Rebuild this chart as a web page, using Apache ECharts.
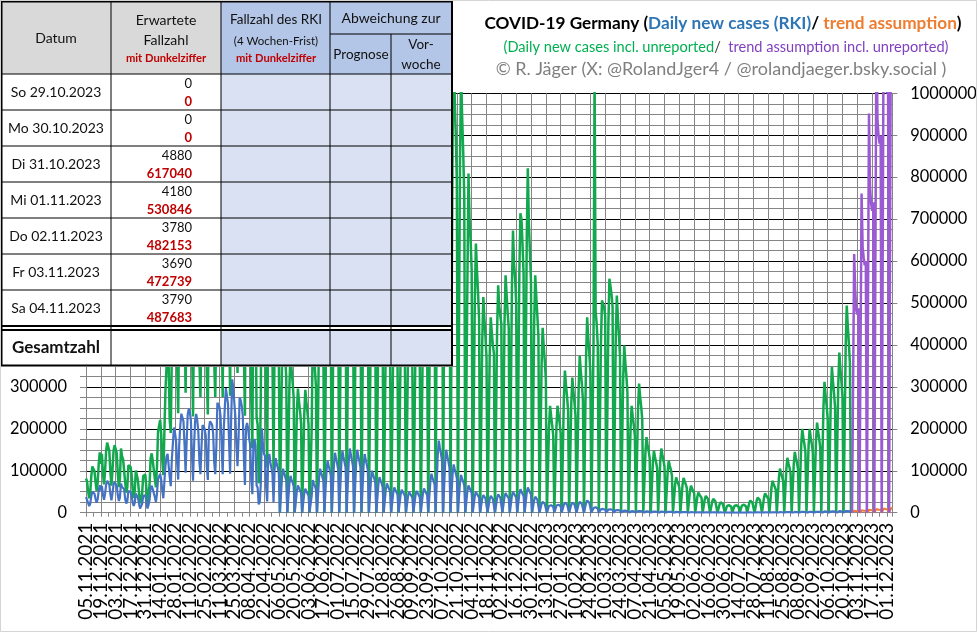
<!DOCTYPE html>
<html><head><meta charset="utf-8">
<script src="https://cdn.jsdelivr.net/npm/echarts@6/dist/echarts.min.js"></script>
<style>html,body{margin:0;padding:0;background:#fff}#c{width:977px;height:632px}</style>
</head><body><div id="c"></div>
<script>
// All case values below are in thousands (UNIT = 1000 cases)
const UNIT = 1000;
const startDate = [2021, 10, 5];   // 05.11.2021 (month 0-based)
const dayCount = 762;              // 05.11.2021 .. 06.12.2023
const labelEvery = 14;             // one date label every 14 days

// Daily new cases (RKI), 05.11.2021 - 31.12.2021
const blue2021 = [
  37.1, 34.0, 23.5,
  15.5, 21.8, 39.7, 50.2, 48.6, 45.1, 33.5,
  23.6, 32.0, 52.8, 65.4, 52.9, 63.9, 42.7,
  30.6, 45.3, 66.9, 76.0, 76.4, 67.2, 44.4,
  29.4, 45.8, 67.2, 73.2, 74.4, 64.5, 42.1,
  27.8, 36.1, 69.6, 61.3, 58.0, 56.3, 32.6,
  21.7, 27.7, 51.3, 51.0, 50.0, 42.0, 25.0,
  16.0, 23.4, 45.7, 44.9, 35.4, 22.2, 10.1,
  13.9, 21.1, 40.0, 41.2, 41.2
];
// Daily new cases (RKI), 2022
const blue2022 = [
  26.4, 10.1,
  18.5, 30.6, 58.9, 64.3, 56.3, 55.9, 36.6,
  25.3, 45.7, 80.4, 81.4, 92.2, 78.0, 52.5,
  34.5, 74.4, 112.3, 133.5, 140.2, 135.5, 85.4,
  63.4, 127.0, 164.0, 203.1, 190.1, 172.0, 119.0,
  79.0, 162.6, 208.5, 236.1, 240.2, 217.8, 163.0,
  95.3, 169.6, 234.3, 247.9, 240.0, 220.0, 140.0,
  76.5, 159.2, 220.0, 235.6, 220.0, 194.0, 122.0,
  92.0, 158.0, 209.1, 210.7, 200.0, 184.0, 110.0,
  78.0, 198.0, 218.0, 215.0, 210.0, 190.0, 120.0,
  92.0, 156.0, 262.0, 262.0, 252.0, 230.0, 160.0,
  92.0, 198.0, 250.0, 297.0, 297.0, 260.0, 170.0,
  93.0, 223.0, 318.0, 296.0, 296.0, 228.0, 156.0,
  111.0, 180.0, 274.0, 268.0, 255.0, 230.0, 130.0,
  66.0, 203.0, 214.0, 201.0, 176.0, 162.0, 77.0,
  44.0, 162.0, 176.0, 160.0, 65.0, 60.0, 20.0,
  25.0, 70.0, 201.0, 163.0, 140.0, 135.0, 60.0,
  27.0, 130.0, 140.0, 120.0, 107.0, 92.0, 25.0,
  104, 130, 117, 107, 94, 0, 0,
  84, 105, 95, 86, 76, 0, 0,
  70, 88, 79, 72, 63, 0, 0,
  52, 65, 59, 53, 47, 0, 0,
  46, 57, 51, 47, 41, 0, 0,
  40, 78, 70, 64, 56, 0, 0,
  84, 105, 95, 86, 76, 0, 0,
  99, 124, 112, 102, 89, 0, 0,
  114, 143, 129, 117, 103, 0, 0,
  118, 148, 133, 121, 107, 0, 0,
  122, 153, 138, 125, 110, 0, 0,
  120, 150, 135, 123, 108, 0, 0,
  112, 140, 126, 115, 101, 0, 0,
  80, 100, 90, 82, 72, 0, 0,
  68, 85, 77, 70, 61, 0, 0,
  56, 70, 63, 57, 50, 0, 0,
  48, 60, 54, 49, 43, 0, 0,
  44, 55, 50, 45, 40, 0, 0,
  40, 50, 45, 41, 36, 0, 0,
  42, 52, 47, 43, 37, 0, 0,
  46, 58, 52, 48, 42, 0, 0,
  74, 93, 84, 76, 67, 0, 0,
  138, 172, 155, 141, 124, 0, 0,
  120, 150, 135, 123, 108, 0, 0,
  92, 115, 104, 94, 83, 0, 0,
  72, 90, 81, 74, 65, 0, 0,
  52, 65, 59, 53, 47, 0, 0,
  40, 50, 45, 41, 36, 0, 0,
  34, 42, 38, 34, 30, 0, 0,
  32, 40, 36, 33, 29, 0, 0,
  35, 44, 40, 36, 32, 0, 0,
  38, 47, 42, 39, 34, 0, 0,
  40, 50, 45, 41, 36, 0, 0,
  45, 56, 50, 46, 40, 0, 0,
  48, 60, 54, 49, 43, 0
];
// Daily new cases (RKI), 01.01.2023 - 28.10.2023
const blue2023 = [
  0,
  30, 38, 34, 31, 27, 0, 0,
  21, 26, 23, 21, 19, 0, 0,
  16, 20, 18, 16, 14, 0, 0,
  17, 21, 19, 17, 15, 0, 0,
  19, 24, 22, 20, 17, 0, 0,
  19, 24, 22, 20, 17, 0, 0,
  21, 26, 23, 21, 19, 0, 0,
  23, 29, 26, 24, 21, 0, 0,
  11, 14, 13, 11, 10, 0, 0,
  8, 10, 9, 8.2, 7.2, 0, 0,
  7.2, 9, 8.1, 7.4, 6.5, 0, 0,
  5.6, 7, 6.3, 5.7, 5.0, 0, 0,
  4.4, 5.5, 5.0, 4.5, 4.0, 0, 0,
  3.2, 4, 3.6, 3.3, 2.9, 0, 0,
  3.6, 4.5, 4.1, 3.7, 3.2, 0, 0,
  2.8, 3.5, 3.2, 2.9, 2.5, 0, 0,
  2.4, 3, 2.7, 2.5, 2.2, 0, 0,
  2.2, 2.8, 2.5, 2.3, 2.0, 0, 0,
  2.0, 2.5, 2.3, 2.1, 1.8, 0, 0,
  1.6, 2, 1.8, 1.6, 1.4, 0, 0,
  1.3, 1.6, 1.4, 1.3, 1.2, 0, 0,
  1.0, 1.3, 1.2, 1.1, 0.9, 0, 0,
  0.9, 1.1, 1.0, 0.9, 0.8, 0, 0,
  0.8, 1.0, 0.9, 0.8, 0.7, 0, 0,
  0.6, 0.8, 0.7, 0.7, 0.6, 0, 0,
  0.5, 0.6, 0.5, 0.5, 0.4, 0, 0,
  0.4, 0.5, 0.45, 0.4, 0.36, 0, 0,
  0.4, 0.5, 0.45, 0.4, 0.36, 0, 0,
  0.4, 0.5, 0.45, 0.4, 0.36, 0, 0,
  0.5, 0.6, 0.5, 0.5, 0.4, 0, 0,
  0.6, 0.7, 0.6, 0.6, 0.5, 0, 0,
  0.6, 0.8, 0.7, 0.7, 0.6, 0, 0,
  0.8, 1.0, 0.9, 0.8, 0.7, 0, 0,
  1.0, 1.3, 1.2, 1.1, 0.9, 0, 0,
  1.3, 1.6, 1.4, 1.3, 1.2, 0, 0,
  1.4, 1.8, 1.6, 1.5, 1.3, 0, 0,
  1.8, 2.2, 2.0, 1.8, 1.6, 0, 0,
  1.8, 2.3, 2.1, 1.9, 1.7, 0, 0,
  2.0, 2.5, 2.3, 2.1, 1.8, 0, 0,
  2.4, 3.0, 2.7, 2.5, 2.2, 0, 0,
  2.8, 3.5, 3.2, 2.9, 2.5, 0, 0,
  3.0, 3.8, 3.4, 3.1, 2.7, 0, 0,
  3.6, 4.5, 4.1, 3.7, 3.2, 0
];

// Daily new cases incl. unreported, 05.11.2021 - 31.12.2021
const green2021 = [
  81.6, 74.8, 51.7,
  34.1, 48.0, 87.3, 110.4, 106.9, 99.2, 73.7,
  51.9, 70.4, 116.2, 143.9, 116.4, 140.6, 93.9,
  67.3, 99.7, 147.2, 167.2, 168.1, 147.8, 97.7,
  64.7, 100.8, 147.8, 161.0, 163.7, 141.9, 92.6,
  61.2, 79.4, 153.1, 134.9, 127.6, 123.9, 71.7,
  47.7, 60.9, 112.9, 112.2, 110.0, 92.4, 55.0,
  35.2, 51.5, 100.5, 98.8, 77.9, 48.8, 22.2,
  30.6, 46.4, 88.0, 90.6, 90.6
];
// Daily new cases incl. unreported, 2022
const green2022 = [
  58.1, 22.2,
  40.7, 67.3, 129.6, 141.5, 123.9, 123.0, 80.5,
  60.7, 109.7, 193.0, 195.4, 221.3, 187.2, 126.0,
  89.7, 193.4, 292.0, 347.1, 364.5, 352.3, 222.0,
  190.2, 381.0, 492.0, 609.3, 570.3, 516.0, 357.0,
  237.0, 487.8, 625.5, 708.3, 720.6, 653.4, 489.0,
  285.9, 508.8, 702.9, 743.7, 720.0, 660.0, 420.0,
  229.5, 477.6, 660.0, 706.8, 660.0, 582.0, 366.0,
  276.0, 474.0, 627.3, 632.1, 600.0, 552.0, 330.0,
  234.0, 594.0, 654.0, 645.0, 630.0, 570.0, 360.0,
  276.0, 468.0, 786.0, 786.0, 756.0, 690.0, 480.0,
  276.0, 594.0, 750.0, 891.0, 891.0, 780.0, 510.0,
  279.0, 669.0, 954.0, 888.0, 888.0, 684.0, 468.0,
  333.0, 540.0, 822.0, 804.0, 765.0, 690.0, 390.0,
  231.0, 710.5, 749.0, 703.5, 616.0, 567.0, 269.5,
  154.0, 567.0, 616.0, 560.0, 227.5, 210.0, 70.0,
  100.0, 280.0, 804.0, 652.0, 560.0, 540.0, 240.0,
  108.0, 520.0, 560.0, 480.0, 428.0, 368.0, 100.0,
  416, 520, 468, 426, 374, 0, 0,
  360, 450, 405, 369, 324, 0, 0,
  304, 380, 342, 312, 274, 0, 0,
  237, 296, 266, 243, 213, 0, 0,
  234, 293, 264, 240, 211, 0, 0,
  200, 420, 378, 344, 302, 0, 0,
  448, 560, 504, 459, 403, 0, 0,
  520, 650, 585, 533, 468, 0, 0,
  600, 750, 675, 615, 540, 0, 0,
  624, 780, 702, 640, 562, 0, 0,
  640, 800, 720, 656, 576, 0, 0,
  640, 800, 720, 656, 576, 0, 0,
  608, 760, 684, 623, 547, 0, 0,
  496, 620, 558, 508, 446, 0, 0,
  448, 560, 504, 459, 403, 0, 0,
  416, 520, 468, 426, 374, 0, 0,
  400, 500, 450, 410, 360, 0, 0,
  392, 490, 441, 402, 353, 0, 0,
  392, 490, 441, 402, 353, 0, 0,
  400, 500, 450, 410, 360, 0, 0,
  432, 540, 486, 443, 389, 0, 0,
  560, 700, 630, 574, 504, 0, 0,
  1040, 1300, 1170, 1066, 936, 0, 0,
  960, 1200, 1080, 984, 864, 0, 0,
  880, 1100, 990, 902, 792, 0, 0,
  840, 1050, 945, 861, 756, 0, 0,
  560, 809, 700, 650, 580, 0, 0,
  514, 642, 578, 526, 462, 0, 0,
  411, 514, 463, 421, 370, 0, 0,
  373, 466, 430, 400, 380, 0, 0,
  434, 542, 494, 470, 451, 0, 0,
  453, 566, 520, 475, 440, 0, 0,
  538, 673, 594, 560, 500, 0, 0,
  571, 714, 700, 640, 570, 0, 0,
  657, 821, 690, 620, 550, 0
];
// Daily new cases incl. unreported, 01.01.2023 - 28.10.2023
const green2023 = [
  0,
  453, 566, 514, 470, 420, 0, 0,
  353, 441, 397, 362, 318, 0, 0,
  204, 255, 230, 209, 184, 0, 0,
  204, 255, 235, 215, 190, 0, 0,
  271, 339, 305, 278, 244, 0, 0,
  258, 322, 290, 264, 232, 0, 0,
  299, 374, 337, 307, 269, 0, 0,
  373, 466, 419, 382, 336, 0, 0,
  400, 1050, 480, 450, 400, 0, 0,
  405, 506, 498, 490, 470, 0, 0,
  446, 558, 540, 520, 490, 0, 0,
  414, 518, 466, 425, 373, 0, 0,
  319, 399, 359, 327, 287, 0, 0,
  204, 255, 230, 209, 184, 0, 0,
  246, 308, 277, 253, 222, 0, 0,
  144, 180, 162, 148, 130, 0, 0,
  118, 148, 133, 121, 107, 0, 0,
  122, 153, 138, 125, 110, 0, 0,
  99, 124, 112, 102, 89, 0, 0,
  67, 84, 76, 69, 60, 0, 0,
  66, 83, 75, 68, 60, 0, 0,
  51, 64, 58, 52, 46, 0, 0,
  38, 48, 43, 39, 35, 0, 0,
  32, 40, 36, 33, 29, 0, 0,
  26, 33, 30, 27, 24, 0, 0,
  20, 25, 23, 21, 18, 0, 0,
  16, 20, 18, 16, 14, 0, 0,
  16, 20, 18, 16, 14, 0, 0,
  17, 21, 19, 17, 15, 0, 0,
  23, 29, 26, 24, 21, 0, 0,
  29, 36, 32, 30, 26, 0, 0,
  37, 46, 41, 38, 33, 0, 0,
  61, 76, 68, 62, 55, 0, 0,
  84, 105, 95, 86, 76, 0, 0,
  105, 131, 118, 107, 94, 0, 0,
  116, 145, 131, 119, 104, 0, 0,
  160, 200, 180, 164, 144, 0, 0,
  160, 200, 180, 164, 144, 0, 0,
  172, 215, 194, 176, 155, 0, 0,
  250, 312, 281, 256, 225, 0, 0,
  278, 348, 313, 285, 251, 0, 0,
  306, 382, 344, 313, 275, 0, 0,
  395, 494, 445, 405, 356, 0
];

// Trend assumption, 29.10.2023 - 06.12.2023
const trend = [
  0,
  0, 4.88, 4.18, 3.78, 3.69, 3.79, 0,
  0, 5.9, 5.0, 4.7, 4.6, 4.7, 0,
  0, 7.4, 6.1, 5.8, 5.6, 5.8, 0,
  0, 8.9, 7.4, 7.0, 6.8, 7.0, 0,
  0, 10.2, 8.5, 8.0, 7.8, 8.1, 0,
  0, 11.4, 9.5
];
// Trend assumption incl. unreported, 29.10.2023 - 06.12.2023
const trendDark = [
  0,
  0, 617.04, 530.846, 482.153, 472.739, 487.683, 0,
  0, 761, 633, 608, 590, 600, 0,
  0, 952, 776, 737, 720, 740, 0,
  0, 1150, 936, 900, 880, 900, 0,
  0, 1300, 1080, 1020, 1000, 1030, 0,
  0, 1450, 1200
];

// Table
const tableDates = ['So 29.10.2023', 'Mo 30.10.2023', 'Di 31.10.2023', 'Mi 01.11.2023', 'Do 02.11.2023', 'Fr 03.11.2023', 'Sa 04.11.2023'];
const tableExpected = [0, 0, 4880, 4180, 3780, 3690, 3790];
const tableExpectedDark = [0, 0, 617040, 530846, 482153, 472739, 487683];

// ---------- build ----------
function pad(n) { return (n < 10 ? '0' : '') + n; }
const categories = [];
for (let i = 0; i < dayCount; i++) {
  const d = new Date(Date.UTC(startDate[0], startDate[1], startDate[2] + i));
  categories.push(pad(d.getUTCDate()) + '.' + pad(d.getUTCMonth() + 1) + '.' + d.getUTCFullYear());
}
function fullSeries(parts, offset) {
  const out = new Array(dayCount).fill(null);
  let i = offset;
  parts.forEach(p => p.forEach(v => { if (i < dayCount) out[i] = v * UNIT; i++; }));
  return out;
}
const blueData = fullSeries([blue2021, blue2022, blue2023], 0);
const greenData = fullSeries([green2021, green2022, green2023], 0);
const trendOffset = blue2021.length + blue2022.length + blue2023.length;
const trendData = fullSeries([trend], trendOffset);
const trendDarkData = fullSeries([trendDark], trendOffset);

const FONT = 'Lato';
const C_GREEN = '#12a84e', C_BLUE = '#4472C4', C_PURPLE = '#9b5ad3', C_ORANGE = '#ED7D31';

// table graphics
const colX = [2, 111, 221, 330, 391, 451];
const rowTop = 74, rowH = 36;
const g = [];
function rect(x, y, w, h, fill) {
  g.push({ type: 'rect', z: 100, shape: { x, y, width: w, height: h }, style: { fill: fill } });
}
function line(x1, y1, x2, y2, lw) {
  g.push({ type: 'line', z: 102, shape: { x1, y1, x2, y2 }, style: { stroke: '#000', lineWidth: lw || 1 } });
}
function text(t, x, y, opt) {
  opt = opt || {};
  g.push({ type: 'text', z: 103, style: { text: t, x, y, fill: opt.color || '#111',
    fontSize: opt.size || 14, fontFamily: FONT, fontWeight: opt.bold ? 'bold' : 'normal',
    align: opt.align || 'center', verticalAlign: 'middle' } });
}
rect(0, 0, 453, 367, '#ffffff');
rect(colX[0], 2, colX[2] - colX[0], 72, '#D9D9D9');
rect(colX[2], 2, colX[5] - colX[2], 72, '#B4C6E7');
const bodyBottom = rowTop + rowH * tableDates.length;
rect(colX[2], rowTop, colX[5] - colX[2], bodyBottom - rowTop, '#D9E1F2');
rect(colX[2], 330, colX[5] - colX[2], 35, '#D9E1F2');
for (let i = 1; i < 5; i++) {
  const top = (i >= 4) ? 34 : 2;
  line(colX[i], top, colX[i], 365, 1);
}
line(colX[3], 34, colX[5], 34, 1);
for (let r = 0; r <= tableDates.length; r++) line(colX[0], rowTop + rowH * r, colX[5], rowTop + rowH * r, (r === tableDates.length) ? 2 : 1);
line(colX[0], 330, colX[5], 330, 2);
g.push({ type: 'rect', z: 104, shape: { x: 1.5, y: 1.5, width: 450.5, height: 364 }, style: { fill: 'none', stroke: '#000', lineWidth: 2 } });
text('Datum', 56, 38, { size: 14 });
text('Erwartete', 166, 20, { size: 14 });
text('Fallzahl', 166, 40, { size: 14 });
text('mit Dunkelziffer', 166, 58, { size: 11.2, bold: true, color: '#C00000' });
text('Fallzahl des RKI', 276, 20, { size: 13.5 });
text('(4 Wochen-Frist)', 276, 41, { size: 11.5 });
text('mit Dunkelziffer', 276, 58, { size: 11.2, bold: true, color: '#C00000' });
text('Abweichung zur', 391, 18, { size: 14 });
text('Prognose', 361, 55, { size: 13.5 });
text('Vor-', 421, 45, { size: 13.5 });
text('woche', 421, 65, { size: 13.5 });
tableDates.forEach((d, i) => {
  const t = rowTop + rowH * i;
  text(d, 56, t + 18.5, { size: 14 });
  text(String(tableExpected[i]), 192, t + 10, { size: 13, align: 'right' });
  text(String(tableExpectedDark[i]), 192, t + 27.5, { size: 13, bold: true, align: 'right', color: '#C00000' });
});
text('Gesamtzahl', 56, 348, { size: 17, bold: true });

// titles
g.push({ type: 'text', z: 103, style: { x: 723, y: 23, align: 'center', verticalAlign: 'middle',
  text: '{k|COVID-19 Germany (}{b|Daily new cases (RKI)}{k|/ }{o|trend assumption}{k|)}',
  rich: { k: { fill: '#000', fontSize: 17.2, fontWeight: 'bold', fontFamily: FONT },
          b: { fill: '#2E75B6', fontSize: 17.2, fontWeight: 'bold', fontFamily: FONT },
          o: { fill: '#ED7D31', fontSize: 17.2, fontWeight: 'bold', fontFamily: FONT } } } });
g.push({ type: 'text', z: 103, style: { x: 726, y: 47, align: 'center', verticalAlign: 'middle',
  text: '{g|(Daily new cases incl. unreported}{k|/}{p|  trend assumption incl. unreported)}',
  rich: { g: { fill: '#00B050', fontSize: 14.6, fontFamily: FONT },
          k: { fill: '#404040', fontSize: 14.6, fontFamily: FONT },
          p: { fill: '#7F3FBF', fontSize: 14.6, fontFamily: FONT } } } });
g.push({ type: 'text', z: 103, style: { x: 721, y: 69, align: 'center', verticalAlign: 'middle',
  text: '© R. Jäger (X: @RolandJger4 / @rolandjaeger.bsky.social )',
  fill: '#7F7F7F', fontSize: 18, fontFamily: FONT } });
g.push({ type: 'rect', z: 105, shape: { x: 0.5, y: 0.5, width: 976, height: 631 }, style: { fill: 'none', stroke: '#d4d4d4', lineWidth: 1 } });

const gridColor = '#858585';
const plainNum = v => String(Math.round(v));
const option = {
  animation: false,
  backgroundColor: '#ffffff',
  grid: { left: 86, right: 84.7, top: 93.3, bottom: 119.3, containLabel: false, outerBoundsMode: 'none' },
  xAxis: {
    type: 'category', data: categories, boundaryGap: false,
    axisLine: { show: true, lineStyle: { color: gridColor, width: 1 } },
    axisTick: { show: true, interval: 6, length: 4, lineStyle: { color: gridColor } },
    axisLabel: { interval: 0, rotate: 90, fontSize: 19, lineHeight: 13, color: '#000', fontFamily: FONT, margin: 10,
      formatter: (v, idx) => (idx % labelEvery === 0 ? v : '') },
    splitLine: { show: true, interval: 13, lineStyle: { color: gridColor, width: 1 } }
  },
  yAxis: [
    { type: 'value', min: 0, max: 1000000, interval: 100000, position: 'left',
      axisLine: { show: true, lineStyle: { color: gridColor } },
      axisTick: { show: true, length: 6, lineStyle: { color: gridColor } },
      minorTick: { show: true, splitNumber: 4, length: 6, lineStyle: { color: gridColor } },
      splitLine: { show: true, lineStyle: { color: '#000', width: 1 } },
      minorSplitLine: { show: true, lineStyle: { color: gridColor, width: 1 } },
      axisLabel: { fontSize: 16.4, color: '#000', fontFamily: FONT, margin: 19, formatter: plainNum } },
    { type: 'value', min: 0, max: 1000000, interval: 100000, position: 'right',
      axisLine: { show: true, lineStyle: { color: gridColor } },
      axisTick: { show: true, length: 5, lineStyle: { color: gridColor } },
      splitLine: { show: false },
      axisLabel: { fontSize: 16.4, color: '#000', fontFamily: FONT, margin: 18, formatter: plainNum } }
  ],
  series: [
    { name: 'Daily new cases incl. unreported', type: 'line', data: greenData, symbol: 'none', z: 2,
      lineStyle: { color: C_GREEN, width: 2.5 }, itemStyle: { color: C_GREEN } },
    { name: 'trend assumption', type: 'line', data: trendData, symbol: 'none', z: 3,
      lineStyle: { color: C_ORANGE, width: 2 }, itemStyle: { color: C_ORANGE } },
    { name: 'trend assumption incl. unreported', type: 'line', data: trendDarkData, symbol: 'none', z: 4,
      lineStyle: { color: C_PURPLE, width: 2.5 }, itemStyle: { color: C_PURPLE } },
    { name: 'Daily new cases (RKI)', type: 'line', data: blueData, symbol: 'none', z: 5,
      lineStyle: { color: C_BLUE, width: 2.2 }, itemStyle: { color: C_BLUE } }
  ],
  graphic: { elements: g }
};
const chart = echarts.init(document.getElementById('c'));
chart.setOption(option);
</script>
</body></html>
